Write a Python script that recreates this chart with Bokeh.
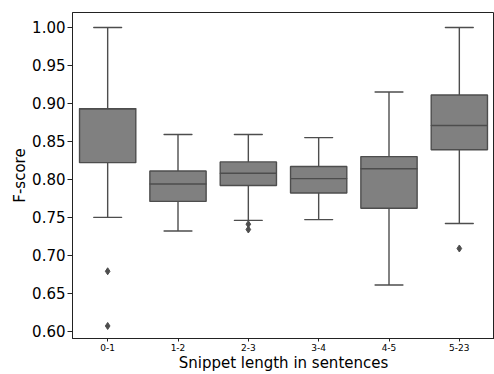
from bokeh.plotting import figure
from bokeh.models import FactorRange, Range1d, FixedTicker, NumeralTickFormatter, ColumnDataSource
from bokeh.embed import file_html
from bokeh.resources import INLINE

categories = ["0-1", "1-2", "2-3", "3-4", "4-5", "5-23"]
whisker_lo = [0.750, 0.732, 0.746, 0.747, 0.661, 0.742]
q1 = [0.822, 0.771, 0.792, 0.782, 0.762, 0.839]
median = [0.893, 0.794, 0.808, 0.801, 0.814, 0.871]
q3 = [0.893, 0.811, 0.823, 0.817, 0.830, 0.911]
whisker_hi = [1.000, 0.859, 0.859, 0.855, 0.915, 1.000]
outlier_cat = ["0-1", "0-1", "2-3", "2-3", "5-23"]
outlier_val = [0.679, 0.607, 0.741, 0.734, 0.709]
y_ticks = [0.60, 0.65, 0.70, 0.75, 0.80, 0.85, 0.90, 0.95, 1.00]

FONT = "DejaVu Sans"
EDGE = "#4d4d4d"
FILL = "#808080"

src = ColumnDataSource(dict(cat=categories, lo=whisker_lo, q1=q1, med=median, q3=q3, hi=whisker_hi))

p = figure(width=494, height=374, x_range=FactorRange(*categories),
           y_range=Range1d(0.5905, 1.0197), output_backend="svg", toolbar_location=None,
           min_border_left=72, min_border_right=0, min_border_top=12, min_border_bottom=33)

# whiskers
p.segment(x0="cat", y0="q3", x1="cat", y1="hi", source=src, line_color=EDGE, line_width=1.4)
p.segment(x0="cat", y0="lo", x1="cat", y1="q1", source=src, line_color=EDGE, line_width=1.4)
# caps
p.rect(x="cat", y="hi", width=0.4, height=0.0000001, source=src, line_color=EDGE, line_width=1.4, fill_alpha=0)
p.rect(x="cat", y="lo", width=0.4, height=0.0000001, source=src, line_color=EDGE, line_width=1.4, fill_alpha=0)
# boxes
p.vbar(x="cat", bottom="q1", top="q3", width=0.8, source=src, fill_color=FILL, line_color=EDGE, line_width=1.4)
# medians
p.rect(x="cat", y="med", width=0.8, height=0.0000001, source=src, line_color=EDGE, line_width=1.4, fill_alpha=0)
# outliers
p.scatter(x=outlier_cat, y=outlier_val, marker="diamond", size=7, fill_color=EDGE, line_color=EDGE)

p.grid.visible = False
p.outline_line_color = "#222222"
p.outline_line_width = 1

for ax in (p.xaxis, p.yaxis):
    ax.axis_line_color = "#222222"
    ax.major_tick_line_color = "#222222"
    ax.minor_tick_line_color = None
    ax.major_tick_in = 0
    ax.axis_label_text_font = FONT
    ax.axis_label_text_font_style = "normal"
    ax.axis_label_text_font_size = "15px"
    ax.axis_label_text_color = "#000000"
    ax.axis_label_text_line_height = 1.0
    ax.major_label_text_font = FONT
    ax.major_label_text_color = "#000000"
    ax.major_label_text_line_height = 1.0

p.yaxis.ticker = FixedTicker(ticks=y_ticks)
p.yaxis.formatter = NumeralTickFormatter(format="0.00")
p.yaxis.major_label_text_font_size = "15px"
p.yaxis.major_tick_out = 5
p.yaxis.major_label_standoff = 2
p.yaxis.axis_label = "F-score"
p.yaxis.axis_label_standoff = 0

p.xaxis.major_label_text_font_size = "9px"
p.xaxis.major_tick_out = 3
p.xaxis.major_label_standoff = 2
p.xaxis.axis_label = "Snippet length in sentences"
p.xaxis.axis_label_standoff = 0

open("out.html", "w").write(file_html(p, INLINE))
